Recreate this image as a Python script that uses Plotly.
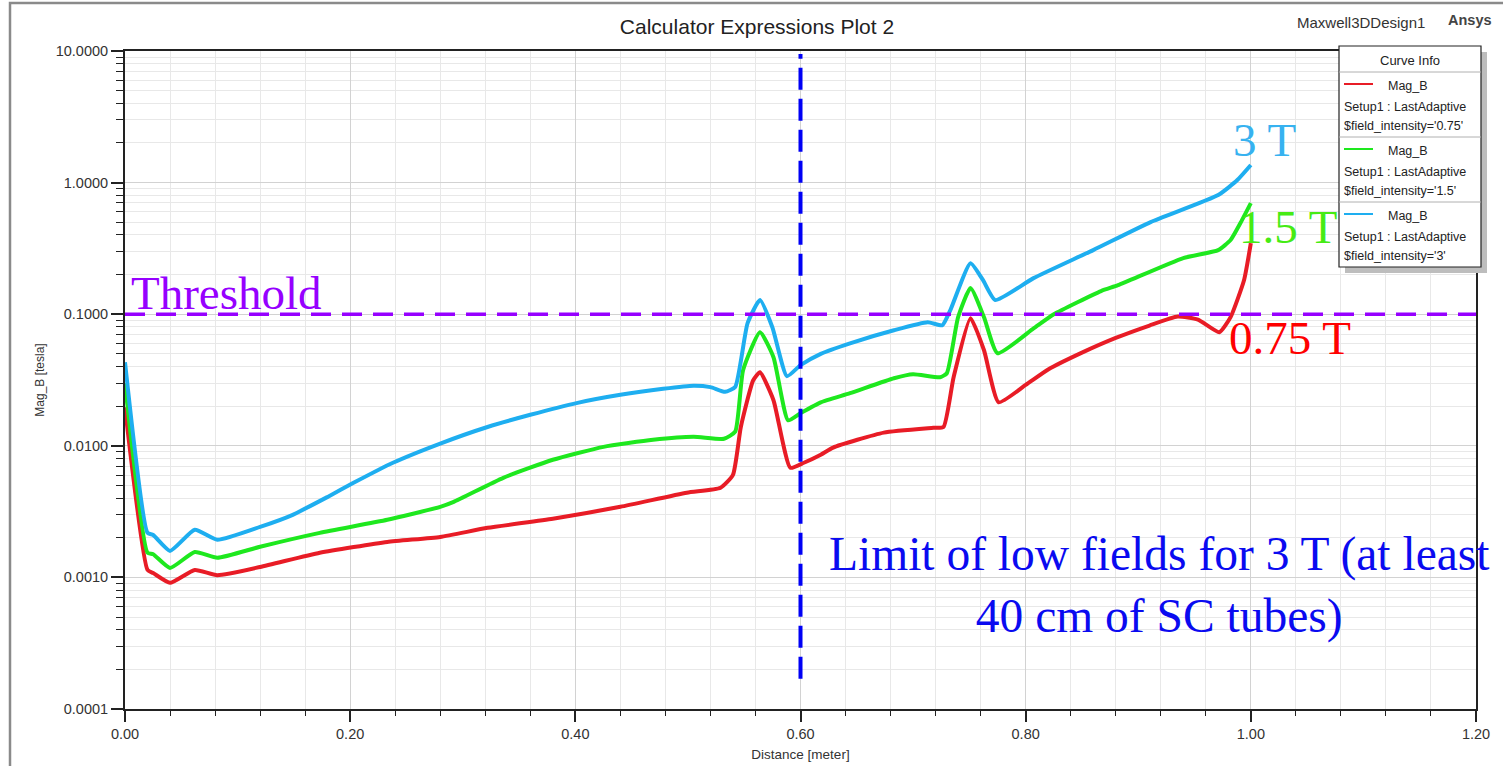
import plotly.graph_objects as go

# ---------------- data ----------------
dist_075 = [0.0, 0.020, 0.025, 0.040, 0.062, 0.082, 0.12, 0.173, 0.233, 0.28, 0.322, 0.38, 0.44,
            0.499, 0.529, 0.540, 0.547, 0.558, 0.564, 0.576, 0.591, 0.603, 0.618, 0.629, 0.674,
            0.718, 0.727, 0.736, 0.751, 0.763, 0.776, 0.80, 0.82, 0.85, 0.88, 0.91, 0.935, 0.953,
            0.972, 0.982, 0.994, 1.0]
magb_075 = [0.0196, 0.00114, 0.00108, 0.00091, 0.00114, 0.00104, 0.00120, 0.00154, 0.00186, 0.00203,
            0.00238, 0.00279, 0.00344, 0.00440, 0.00480, 0.00601, 0.0139, 0.0315, 0.0362, 0.0222,
            0.0068, 0.00743, 0.00855, 0.0097, 0.0126, 0.0137, 0.0139, 0.0332, 0.0933, 0.0532, 0.0214,
            0.029, 0.038, 0.051, 0.066, 0.082, 0.096, 0.091, 0.073, 0.095, 0.182, 0.347]

dist_15 = [0.0, 0.020, 0.025, 0.040, 0.062, 0.082, 0.12, 0.173, 0.233, 0.28, 0.292, 0.336, 0.380,
           0.425, 0.469, 0.505, 0.532, 0.542, 0.549, 0.564, 0.576, 0.589, 0.60, 0.618, 0.644, 0.683,
           0.70, 0.724, 0.730, 0.740, 0.751, 0.763, 0.775, 0.807, 0.825, 0.867, 0.882, 0.940, 0.971,
           0.982, 0.991, 1.0]
magb_15 = [0.0299, 0.00154, 0.00150, 0.00118, 0.00156, 0.00141, 0.00171, 0.00218, 0.00274, 0.00344,
           0.00375, 0.00571, 0.00783, 0.00982, 0.0111, 0.0117, 0.0113, 0.0128, 0.0375, 0.073, 0.0471,
           0.0156, 0.0177, 0.0214, 0.0251, 0.0326, 0.0350, 0.0332, 0.0356, 0.0949, 0.158, 0.0949,
           0.0505, 0.078, 0.100, 0.150, 0.166, 0.267, 0.307, 0.366, 0.497, 0.698]

dist_3 = [0.0, 0.020, 0.025, 0.040, 0.062, 0.082, 0.12, 0.149, 0.18, 0.203, 0.238, 0.28, 0.322, 0.36,
          0.402, 0.44, 0.478, 0.505, 0.52, 0.533, 0.542, 0.553, 0.564, 0.575, 0.588, 0.60, 0.618,
          0.644, 0.683, 0.713, 0.726, 0.733, 0.751, 0.762, 0.773, 0.807, 0.86, 0.911, 0.971, 0.988, 1.0]
magb_3 = [0.0431, 0.00218, 0.00210, 0.00159, 0.00230, 0.00193, 0.00242, 0.00299, 0.00409, 0.00523,
          0.00743, 0.0104, 0.0139, 0.0172, 0.0212, 0.0244, 0.0271, 0.0286, 0.0279, 0.0257, 0.0280,
          0.0855, 0.128, 0.0796, 0.0338, 0.0410, 0.0500, 0.0601, 0.0755, 0.0869, 0.0825, 0.107, 0.244,
          0.182, 0.128, 0.188, 0.307, 0.501, 0.804, 1.045, 1.36]

threshold_x = [0.0, 1.2]
threshold_y = [0.1, 0.1]
limit_x = [0.6, 0.6]
limit_y = [0.00017, 9.5]

series = [
    ("0.75", dist_075, magb_075, "rgb(232,28,38)"),
    ("1.5", dist_15, magb_15, "rgb(30,232,30)"),
    ("3", dist_3, magb_3, "rgb(30,174,240)"),
]

# ---------------- layout helpers ----------------
W, H = 1503, 766
L, R, T, B = 125, 1476, 51, 709


def px(x):
    return (x - L) / (R - L)


def py(y):
    return (B - y) / (B - T)


SANS = "Liberation Sans, Arial, sans-serif"
SERIF = "Liberation Serif, Times New Roman, serif"

fig = go.Figure()

for lvl, xs, ys, col in series:
    fig.add_trace(go.Scatter(
        x=xs, y=ys, mode="lines", name=f"Mag_B $field_intensity='{lvl}'",
        line=dict(color=col, width=4, shape="spline", smoothing=0.5),
        showlegend=False,
    ))

fig.add_trace(go.Scatter(x=threshold_x, y=threshold_y, mode="lines", showlegend=False,
                         line=dict(color="rgb(150,0,255)", width=3.5, dash="20px,11px")))
fig.add_trace(go.Scatter(x=limit_x, y=limit_y, mode="lines", showlegend=False,
                         line=dict(color="rgb(0,0,245)", width=4, dash="22px,9px")))

shapes = []
annotations = []

# outer frame of the screenshot
shapes.append(dict(type="rect", xref="paper", yref="paper", x0=px(10), x1=px(1520),
                   y0=py(3), y1=py(790), line=dict(color="#8a8a8a", width=2.5), layer="below"))

# ----- "Curve Info" box -----
bx0, bx1, by0, by1 = 1339, 1481, 46, 267
shapes.append(dict(type="rect", xref="paper", yref="paper", x0=px(bx0 + 6), x1=px(bx1 + 6),
                   y0=py(by0 + 6), y1=py(by1 + 6), fillcolor="#bdbdbd", line=dict(width=0)))
shapes.append(dict(type="rect", xref="paper", yref="paper", x0=px(bx0), x1=px(bx1),
                   y0=py(by0), y1=py(by1), fillcolor="white", line=dict(color="#222", width=1.2)))
for sy in (72, 137, 202):
    shapes.append(dict(type="line", xref="paper", yref="paper", x0=px(bx0), x1=px(bx1),
                       y0=py(sy), y1=py(sy), line=dict(color="#b0b0b0", width=1)))
annotations.append(dict(text="Curve Info", xref="paper", yref="paper", x=px(1410), y=py(60),
                        showarrow=False, xanchor="center", yanchor="middle",
                        font=dict(family=SANS, size=13, color="#222")))
for i, (lvl, xs, ys, col) in enumerate(series):
    top = 84 + 65 * i
    shapes.append(dict(type="line", xref="paper", yref="paper", x0=px(1344), x1=px(1373),
                       y0=py(top), y1=py(top), line=dict(color=col, width=2)))
    annotations.append(dict(text="Mag_B", xref="paper", yref="paper", x=px(1386), y=py(top + 2),
                            showarrow=False, xanchor="left", yanchor="middle",
                            font=dict(family=SANS, size=12.5, color="#222")))
    annotations.append(dict(text="Setup1 : LastAdaptive", xref="paper", yref="paper", x=px(1342),
                            y=py(top + 23), showarrow=False, xanchor="left", yanchor="middle",
                            font=dict(family=SANS, size=12.5, color="#222")))
    annotations.append(dict(text=f"$field_intensity='{lvl}'", xref="paper", yref="paper", x=px(1342),
                            y=py(top + 42), showarrow=False, xanchor="left", yanchor="middle",
                            font=dict(family=SANS, size=12.5, color="#222")))

# ----- header texts -----
annotations.append(dict(text="Maxwell3DDesign1", xref="paper", yref="paper", x=px(1361), y=py(23),
                        showarrow=False, xanchor="center", yanchor="middle",
                        font=dict(family=SANS, size=15, color="#333")))
annotations.append(dict(text="<b>Ansys</b>", xref="paper", yref="paper", x=px(1470), y=py(20),
                        showarrow=False, xanchor="center", yanchor="middle",
                        font=dict(family=SANS, size=14.5, color="#444")))

# ----- overlay labels -----
annotations.append(dict(text="Threshold", xref="paper", yref="paper", x=px(226), y=py(293),
                        showarrow=False, xanchor="center", yanchor="middle",
                        font=dict(family=SERIF, size=47, color="rgb(150,0,255)")))
annotations.append(dict(text="3 T", xref="paper", yref="paper", x=px(1264), y=py(140),
                        showarrow=False, xanchor="center", yanchor="middle",
                        font=dict(family=SERIF, size=47, color="rgb(55,178,240)")))
annotations.append(dict(text="1.5 T", xref="paper", yref="paper", x=px(1288), y=py(227),
                        showarrow=False, xanchor="center", yanchor="middle",
                        font=dict(family=SERIF, size=47, color="rgb(70,235,20)")))
annotations.append(dict(text="0.75 T", xref="paper", yref="paper", x=px(1290), y=py(338),
                        showarrow=False, xanchor="center", yanchor="middle",
                        font=dict(family=SERIF, size=47, color="rgb(255,0,0)")))
annotations.append(dict(text="Limit of low fields for 3 T (at least<br>40 cm of SC tubes)",
                        xref="paper", yref="paper", x=px(1159), y=py(585),
                        showarrow=False, xanchor="center", yanchor="middle", align="center",
                        font=dict(family=SERIF, size=47.5, color="rgb(10,10,240)")))

fig.update_layout(
    width=W, height=H,
    margin=dict(l=L, r=W - R, t=T, b=H - B, autoexpand=False),
    paper_bgcolor="white", plot_bgcolor="white",
    title=dict(text="Calculator Expressions Plot 2", xref="container", yref="container",
               x=757 / W, y=1 - 27 / H, xanchor="center", yanchor="middle",
               font=dict(family=SANS, size=21, color="#222")),
    shapes=shapes, annotations=annotations,
    showlegend=False,
)

fig.update_xaxes(
    range=[0, 1.2], dtick=0.2, tick0=0, tickformat=".2f",
    showline=True, linecolor="#222", linewidth=2, mirror=True,
    ticks="outside", ticklen=11, tickwidth=1.5, tickcolor="#222",
    showgrid=True, gridcolor="#d2d2d2", gridwidth=1, zeroline=False,
    tickfont=dict(family=SANS, size=14.5, color="#333"),
    title=dict(text="Distance [meter]", font=dict(family=SANS, size=13.5, color="#333"), standoff=8),
    minor=dict(dtick=0.04, ticks="outside", ticklen=5, tickcolor="#222", tickwidth=1.2,
               showgrid=True, gridcolor="#e8e8e8", gridwidth=1),
)
fig.update_yaxes(
    type="log", range=[-4, 1], dtick=1, tickformat=".4f",
    showline=True, linecolor="#222", linewidth=2, mirror=True,
    ticks="outside", ticklen=12, tickwidth=1.5, tickcolor="#222",
    showgrid=True, gridcolor="#d2d2d2", gridwidth=1, zeroline=False,
    tickfont=dict(family=SANS, size=14.5, color="#333"),
    title=dict(text="Mag_B [tesla]", font=dict(family=SANS, size=12, color="#333"), standoff=8),
    minor=dict(dtick="D1", ticks="outside", ticklen=7, tickcolor="#222", tickwidth=1.2,
               showgrid=True, gridcolor="#e8e8e8", gridwidth=1),
)

fig.write_html("out.html")
